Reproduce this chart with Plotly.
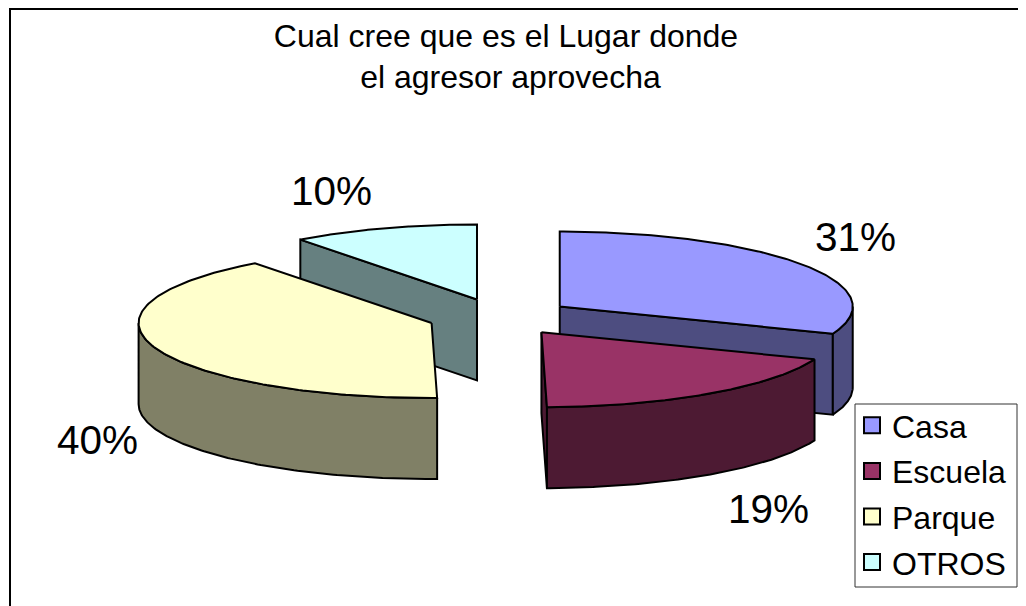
import numpy as np
import plotly.graph_objects as go

categories = ["Casa", "Escuela", "Parque", "OTROS"]
values = [30.9, 18.8, 40.0, 10.3]
top_colors = ["#9999FF", "#993366", "#FFFFCC", "#CCFFFF"]
side_colors = ["#4D4D80", "#4D1A33", "#808066", "#668080"]
draw_order = [3, 0, 2, 1]
label_pos = [(855, 237), (768, 509), (97, 440), (331, 191)]

W, H = 1026, 606
PAGE_MARGIN = 8  # the browser's default body margin offsets the figure
CX, CY, RX, RY, DEPTH, EXPLODE = 500, 317, 293, 75, 81, 0.247

total = sum(values)
cum = np.cumsum([0] + values) / total * 2 * np.pi


def pt(c, th):
    return c[0] + RX * np.sin(th), c[1] - RY * np.cos(th)


fig = go.Figure()


def poly(xs, ys, color):
    fig.add_trace(go.Scatter(x=list(xs), y=list(ys), mode="lines", fill="toself", fillcolor=color,
                             line=dict(color="black", width=2), showlegend=False, hoverinfo="skip"))


for i in draw_order:
    a0, a1 = cum[i], cum[i + 1]
    mid = (a0 + a1) / 2
    c = (CX + EXPLODE * RX * np.sin(mid), CY - EXPLODE * RY * np.cos(mid))
    # cut walls, drawn when they turn toward the viewer
    for th, sign in ((a0, -1), (a1, 1)):
        if sign * np.sin(th) > 0.001:
            px, py = pt(c, th)
            poly([c[0], px, px, c[0], c[0]], [c[1], py, py + DEPTH, c[1] + DEPTH, c[1]], side_colors[i])
    # outer rim, front half only
    lo, hi = max(a0, np.pi / 2), min(a1, 3 * np.pi / 2)
    if hi > lo:
        t = np.linspace(lo, hi, 120)
        ax, ay = pt(c, t)
        poly(np.r_[ax, ax[::-1], ax[0]], np.r_[ay, ay[::-1] + DEPTH, ay[0]], side_colors[i])
    # top face
    t = np.linspace(a0, a1, 160)
    ax, ay = pt(c, t)
    poly(np.r_[c[0], ax, c[0]], np.r_[c[1], ay, c[1]], top_colors[i])

for i, name in enumerate(categories):
    fig.add_trace(go.Scatter(x=[None], y=[None], mode="markers", name=name,
                             marker=dict(symbol="square", size=16, color=top_colors[i],
                                         line=dict(color="black", width=2)),
                             legendgroup=name, hoverinfo="skip"))

for v, (lx, ly) in zip(values, label_pos):
    fig.add_annotation(x=lx, y=ly, text=f"{round(v / total * 100)}%", showarrow=False,
                       font=dict(size=40.5, color="black"))

fig.update_layout(
    width=W, height=H, autosize=False,
    margin=dict(l=0, r=0, t=0, b=0),
    paper_bgcolor="white", plot_bgcolor="white",
    font=dict(family="Liberation Sans, Arial, sans-serif", color="black"),
    xaxis=dict(range=[PAGE_MARGIN, W + PAGE_MARGIN], visible=False, fixedrange=True),
    yaxis=dict(range=[H + PAGE_MARGIN, PAGE_MARGIN], visible=False, fixedrange=True),
    title=dict(text="Cual cree que es el Lugar donde<br>\u00a0el agresor aprovecha", x=498 / W, xanchor="center",
               y=1 - 38.5 / H, yanchor="middle", font=dict(size=32)),
    legend=dict(x=844 / W, y=1 - 390 / H, xanchor="left", yanchor="top", bgcolor="rgba(0,0,0,0)",
                borderwidth=0, font=dict(size=32), tracegroupgap=1,
                traceorder="grouped", itemclick=False, itemdoubleclick=False),
    shapes=[
        dict(type="rect", xref="x", yref="y", x0=10, y0=9, x1=1025, y1=640,
             line=dict(color="black", width=2), fillcolor="rgba(0,0,0,0)", layer="below"),
        dict(type="rect", xref="x", yref="y", x0=855, y0=404, x1=1017, y1=587,
             line=dict(color="#333333", width=1), fillcolor="white", layer="above"),
    ],
)
fig.write_html("out.html")
